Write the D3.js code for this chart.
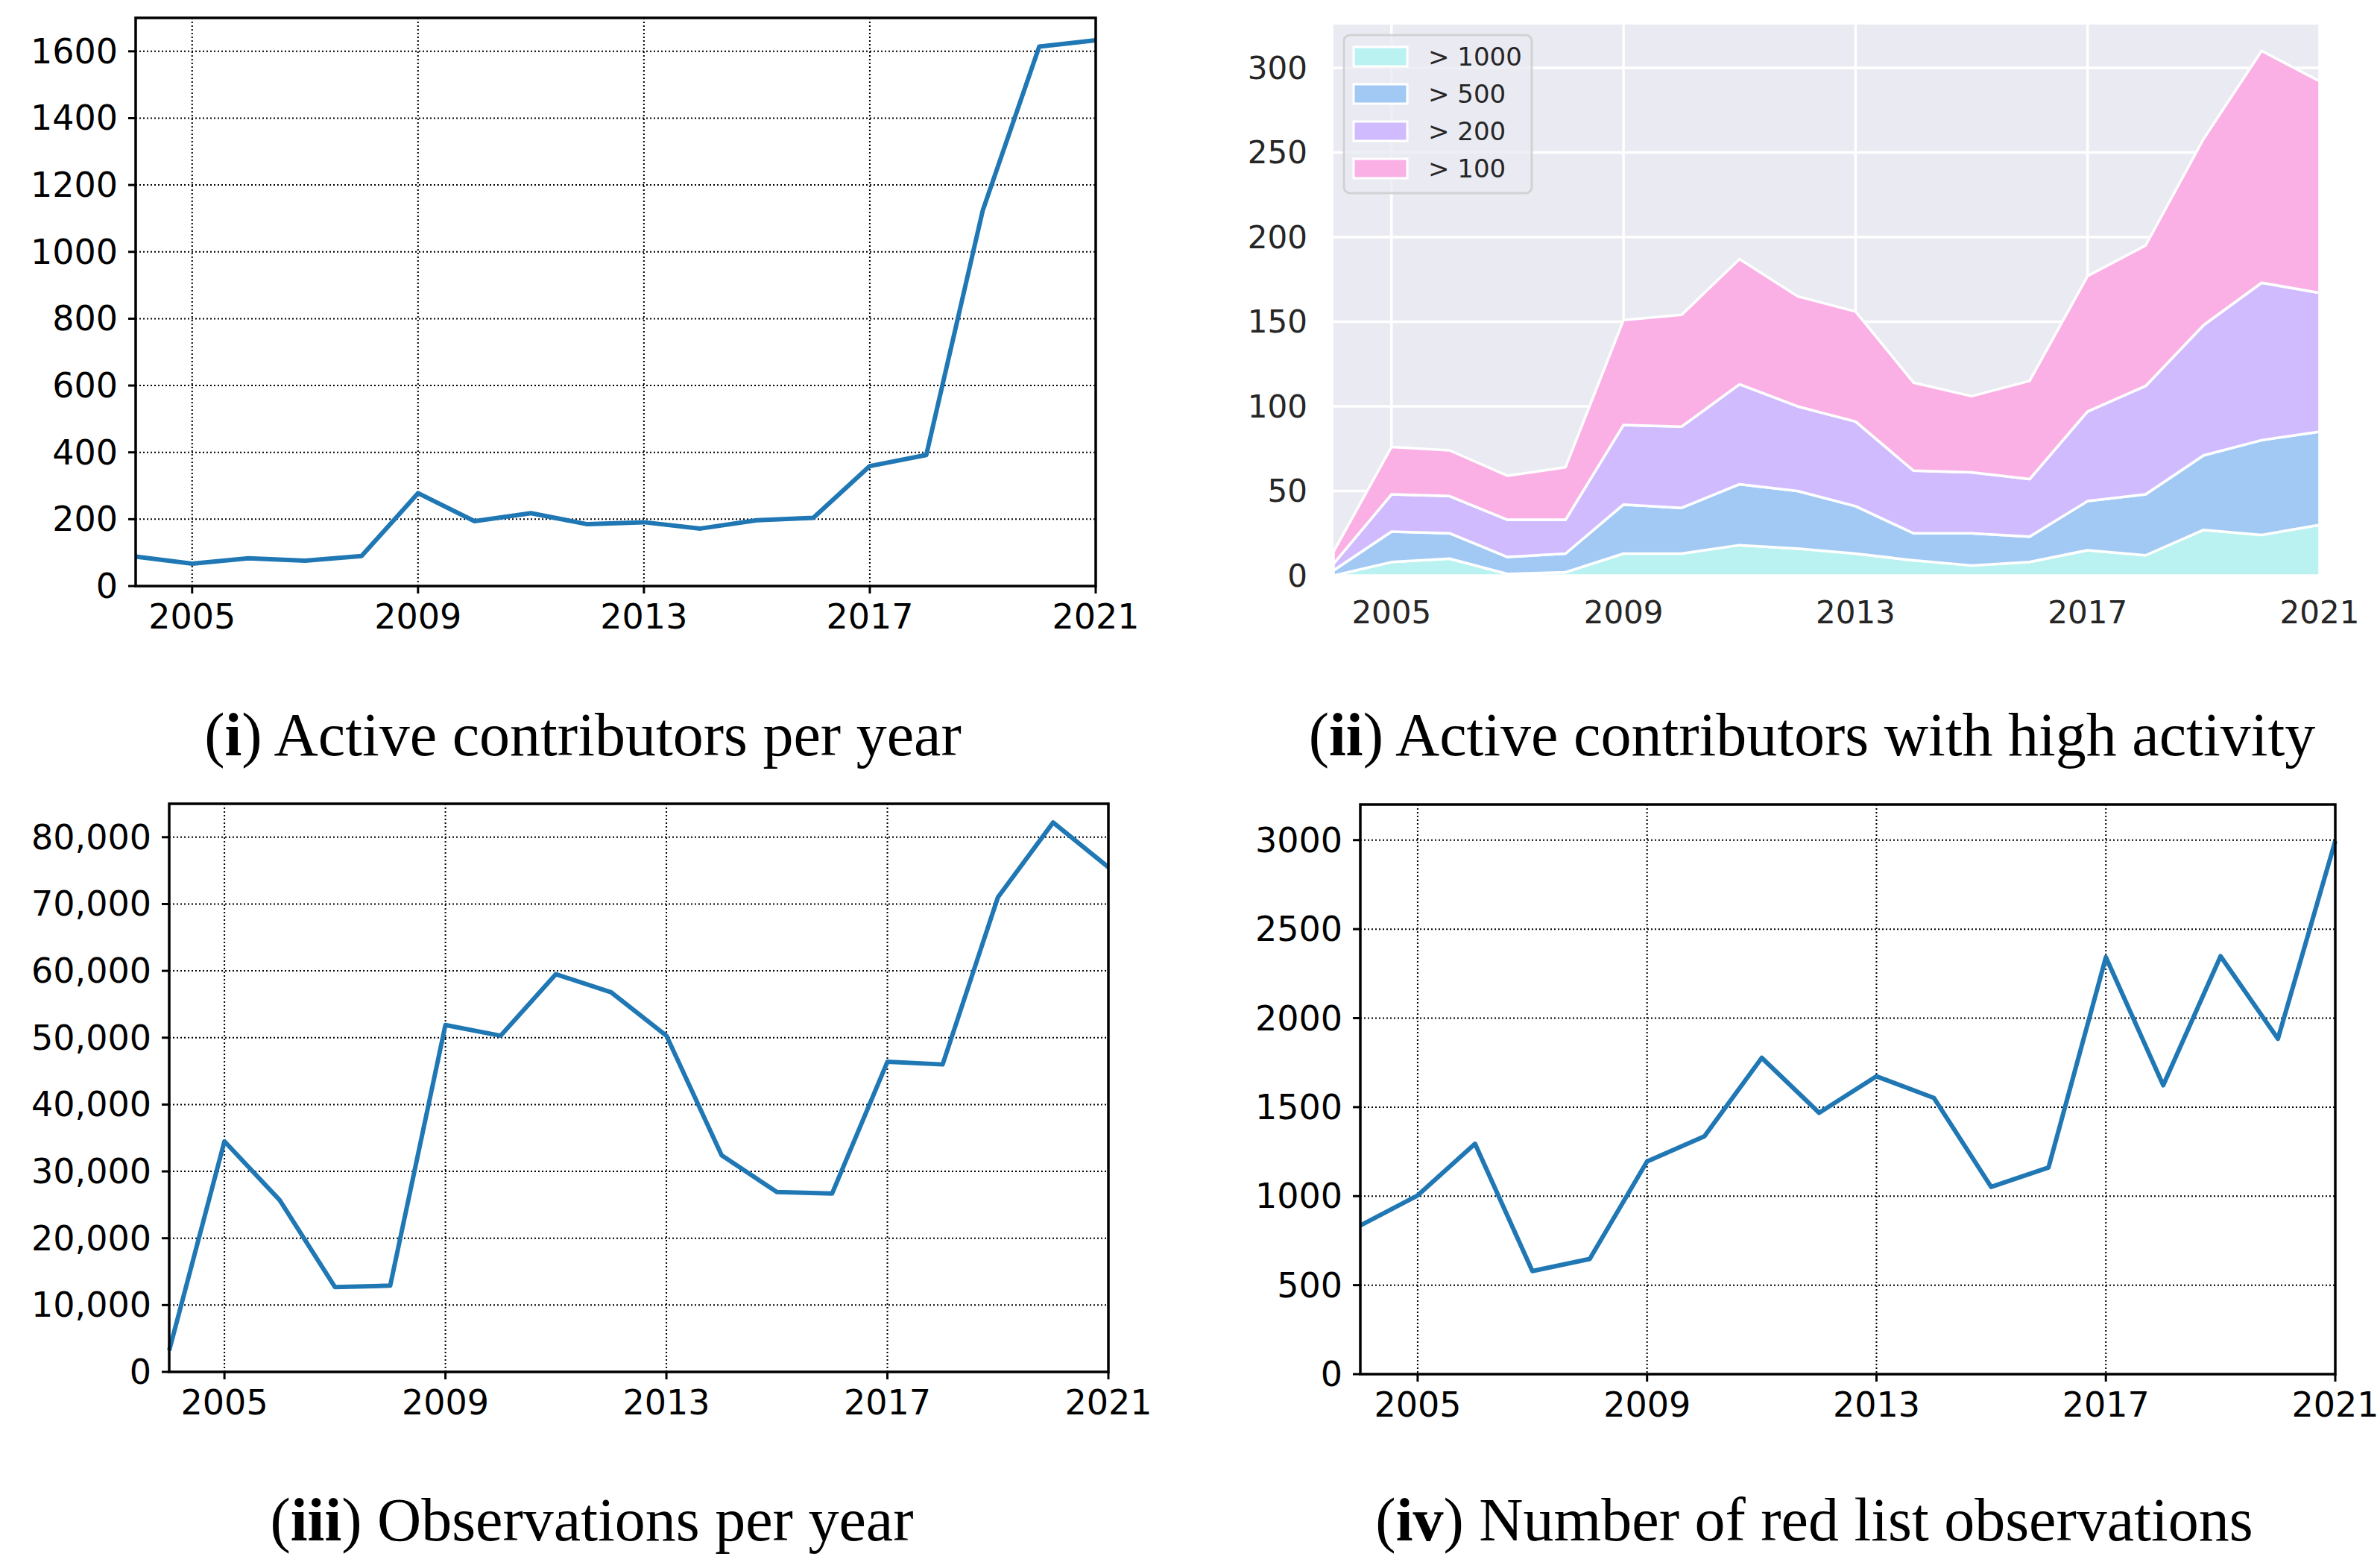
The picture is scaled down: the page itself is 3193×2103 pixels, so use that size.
<!DOCTYPE html>
<html>
<head>
<meta charset="utf-8">
<script src="https://cdn.jsdelivr.net/npm/d3@7"></script>
<style>
  body { margin: 0; background: #fff; }
  svg { display: block; }
</style>
</head>
<body>
<svg id="fig" width="3193" height="2103"></svg>
<script>
// data
const years = [2004, 2005, 2006, 2007, 2008, 2009, 2010, 2011, 2012, 2013, 2014, 2015, 2016, 2017, 2018, 2019, 2020, 2021]
const xTicks = [2005, 2009, 2013, 2017, 2021]

const activeContributors = [88, 67, 83, 76, 90, 278, 194, 218, 185, 191, 172, 197, 204, 359, 392, 1124, 1614, 1633]
const observations = [3200, 34500, 25700, 12700, 12900, 51900, 50300, 59500, 56800, 50300, 32400, 26900, 26700, 46400, 46000, 71000, 82200, 75500]
const redList = [835, 1004, 1294, 579, 647, 1195, 1336, 1777, 1468, 1673, 1552, 1052, 1161, 2342, 1623, 2348, 1884, 2995]

// high activity layers (not cumulative)
const over1000 = [0, 8, 10, 1, 2, 13, 13, 18, 16, 13, 9, 6, 8, 15, 12, 27, 24, 30]
const over500 = [3, 18, 15, 10, 11, 29, 27, 36, 34, 28, 16, 19, 15, 29, 36, 44, 56, 55]
const over200 = [4, 22, 22, 22, 20, 47, 48, 59, 50, 50, 37, 36, 34, 53, 64, 77, 93, 82]
const over100 = [7, 28, 27, 26, 31, 62, 66, 74, 65, 65, 52, 45, 58, 80, 83, 110, 137, 125]
const layerNames = ['> 1000', '> 500', '> 200', '> 100']
const layerColors = ['#b9f2f0', '#a1c9f4', '#d0bbff', '#fab0e4']

const captions = [
    {num: 'i', text: ' Active contributors per year', cx: 782, y: 1013},
    {num: 'ii', text: ' Active contributors with high activity', cx: 2431, y: 1013},
    {num: 'iii', text: ' Observations per year', cx: 794, y: 2066},
    {num: 'iv', text: ' Number of red list observations', cx: 2434, y: 2066}
]

const svg = d3.select('#fig')
const font = 'DejaVu Sans, sans-serif'

// plain matplotlib line panels (i, iii, iv)
const drawLine = ({box, values, yMax, yTicks, fmt}) => {
    const fs = 46
    const x = d3.scaleLinear().domain([2004, 2021]).range([box.left, box.right])
    const y = d3.scaleLinear().domain([0, yMax]).range([box.bottom, box.top])
    const g = svg.append('g')

    // dotted grid
    g.selectAll('.vg').data(xTicks).enter().append('line')
        .attr('x1', d => x(d)).attr('x2', d => x(d))
        .attr('y1', box.top).attr('y2', box.bottom)
        .style('stroke', '#000').style('stroke-width', 2).style('stroke-dasharray', '2,3')
    g.selectAll('.hg').data(yTicks).enter().append('line')
        .attr('x1', box.left).attr('x2', box.right)
        .attr('y1', d => y(d)).attr('y2', d => y(d))
        .style('stroke', '#000').style('stroke-width', 2).style('stroke-dasharray', '2,3')

    const line = d3.line().x((d, i) => x(years[i])).y(d => y(d))
    g.append('path')
        .datum(values)
        .attr('d', line)
        .style('fill', 'none')
        .style('stroke', '#1f77b4')
        .style('stroke-width', 6)
        .style('stroke-linejoin', 'round')

    // spines
    g.append('rect')
        .attr('x', box.left).attr('y', box.top)
        .attr('width', box.right - box.left).attr('height', box.bottom - box.top)
        .style('fill', 'none').style('stroke', '#000').style('stroke-width', 3.5)

    // ticks + labels
    g.selectAll('.xt').data(xTicks).enter().append('line')
        .attr('x1', d => x(d)).attr('x2', d => x(d))
        .attr('y1', box.bottom).attr('y2', box.bottom + 10)
        .style('stroke', '#000').style('stroke-width', 3)
    g.selectAll('.xl').data(xTicks).enter().append('text')
        .attr('x', d => x(d)).attr('y', box.bottom + 57)
        .attr('text-anchor', 'middle')
        .style('font', `${fs}px ${font}`)
        .text(d => d)
    g.selectAll('.yt').data(yTicks).enter().append('line')
        .attr('x1', box.left - 10).attr('x2', box.left)
        .attr('y1', d => y(d)).attr('y2', d => y(d))
        .style('stroke', '#000').style('stroke-width', 3)
    g.selectAll('.yl').data(yTicks).enter().append('text')
        .attr('x', box.left - 24).attr('y', d => y(d) + 16)
        .attr('text-anchor', 'end')
        .style('font', `${fs}px ${font}`)
        .text(d => fmt(d))
}

drawLine({
    box: {left: 182, right: 1470, top: 24, bottom: 786},
    values: activeContributors, yMax: 1700,
    yTicks: [0, 200, 400, 600, 800, 1000, 1200, 1400, 1600], fmt: d => d
})
drawLine({
    box: {left: 227, right: 1487, top: 1078, bottom: 1840},
    values: observations, yMax: 85000,
    yTicks: [0, 10000, 20000, 30000, 40000, 50000, 60000, 70000, 80000], fmt: d3.format(',')
})
drawLine({
    box: {left: 1825, right: 3133, top: 1079, bottom: 1843},
    values: redList, yMax: 3200,
    yTicks: [0, 500, 1000, 1500, 2000, 2500, 3000], fmt: d => d
})

// seaborn darkgrid stackplot (ii)
const drawStack = () => {
    const box = {left: 1789, right: 3112, top: 33, bottom: 772}
    const fs = 42
    const x = d3.scaleLinear().domain([2004, 2021]).range([box.left, box.right])
    const y = d3.scaleLinear().domain([0, 325.5]).range([box.bottom, box.top])
    const yTicks = [0, 50, 100, 150, 200, 250, 300]
    const g = svg.append('g')

    g.append('rect')
        .attr('x', box.left).attr('y', box.top)
        .attr('width', box.right - box.left).attr('height', box.bottom - box.top)
        .style('fill', '#eaeaf2')

    g.selectAll('.vg').data(xTicks).enter().append('line')
        .attr('x1', d => x(d)).attr('x2', d => x(d))
        .attr('y1', box.top).attr('y2', box.bottom)
        .style('stroke', '#fff').style('stroke-width', 3.5)
    g.selectAll('.hg').data(yTicks).enter().append('line')
        .attr('x1', box.left).attr('x2', box.right)
        .attr('y1', d => y(d)).attr('y2', d => y(d))
        .style('stroke', '#fff').style('stroke-width', 3.5)

    const table = years.map((yr, i) => ({year: yr, a: over1000[i], b: over500[i], c: over200[i], d: over100[i]}))
    const series = d3.stack().keys(['a', 'b', 'c', 'd'])(table)

    svg.append('clipPath').attr('id', 'clipii')
        .append('rect')
        .attr('x', box.left).attr('y', box.top)
        .attr('width', box.right - box.left).attr('height', box.bottom - box.top)

    const area = d3.area()
        .x(d => x(d.data.year))
        .y0(d => y(d[0]))
        .y1(d => y(d[1]))
    g.append('g').attr('clip-path', 'url(#clipii)')
        .selectAll('path').data(series).enter().append('path')
        .attr('d', area)
        .style('fill', (d, i) => layerColors[i])
        .style('stroke', '#fff')
        .style('stroke-width', 3.5)
        .style('stroke-linejoin', 'round')

    g.selectAll('.xl').data(xTicks).enter().append('text')
        .attr('x', d => x(d)).attr('y', box.bottom + 64)
        .attr('text-anchor', 'middle')
        .style('font', `${fs}px ${font}`).style('fill', '#262626')
        .text(d => d)
    g.selectAll('.yl').data(yTicks).enter().append('text')
        .attr('x', box.left - 35).attr('y', d => y(d) + 15)
        .attr('text-anchor', 'end')
        .style('font', `${fs}px ${font}`).style('fill', '#262626')
        .text(d => d)

    // legend
    const lg = g.append('g')
    lg.append('rect')
        .attr('x', 1803).attr('y', 47).attr('width', 252).attr('height', 212)
        .attr('rx', 8)
        .style('fill', '#eaeaf2').style('fill-opacity', 0.8)
        .style('stroke', '#cccccc').style('stroke-opacity', 0.8).style('stroke-width', 3)
    const items = lg.selectAll('.item').data(layerNames).enter().append('g')
        .attr('transform', (d, i) => `translate(0, ${76 + i * 50})`)
    items.append('rect')
        .attr('x', 1816).attr('y', -13).attr('width', 72).attr('height', 26)
        .style('fill', (d, i) => layerColors[i])
        .style('stroke', '#fff').style('stroke-width', 3)
    items.append('text')
        .attr('x', 1916).attr('y', 12)
        .style('font', `34px ${font}`).style('fill', '#262626')
        .text(d => d)
}
drawStack()

// sub-captions
const cap = svg.selectAll('.cap').data(captions).enter().append('text')
    .attr('x', d => d.cx).attr('y', d => d.y)
    .attr('text-anchor', 'middle')
    .style('font', '82px "Liberation Serif", serif')
cap.append('tspan').text('(')
cap.append('tspan').style('font-weight', 'bold').text(d => d.num)
cap.append('tspan').text(')')
cap.append('tspan').text(d => d.text)
</script>
</body>
</html>
